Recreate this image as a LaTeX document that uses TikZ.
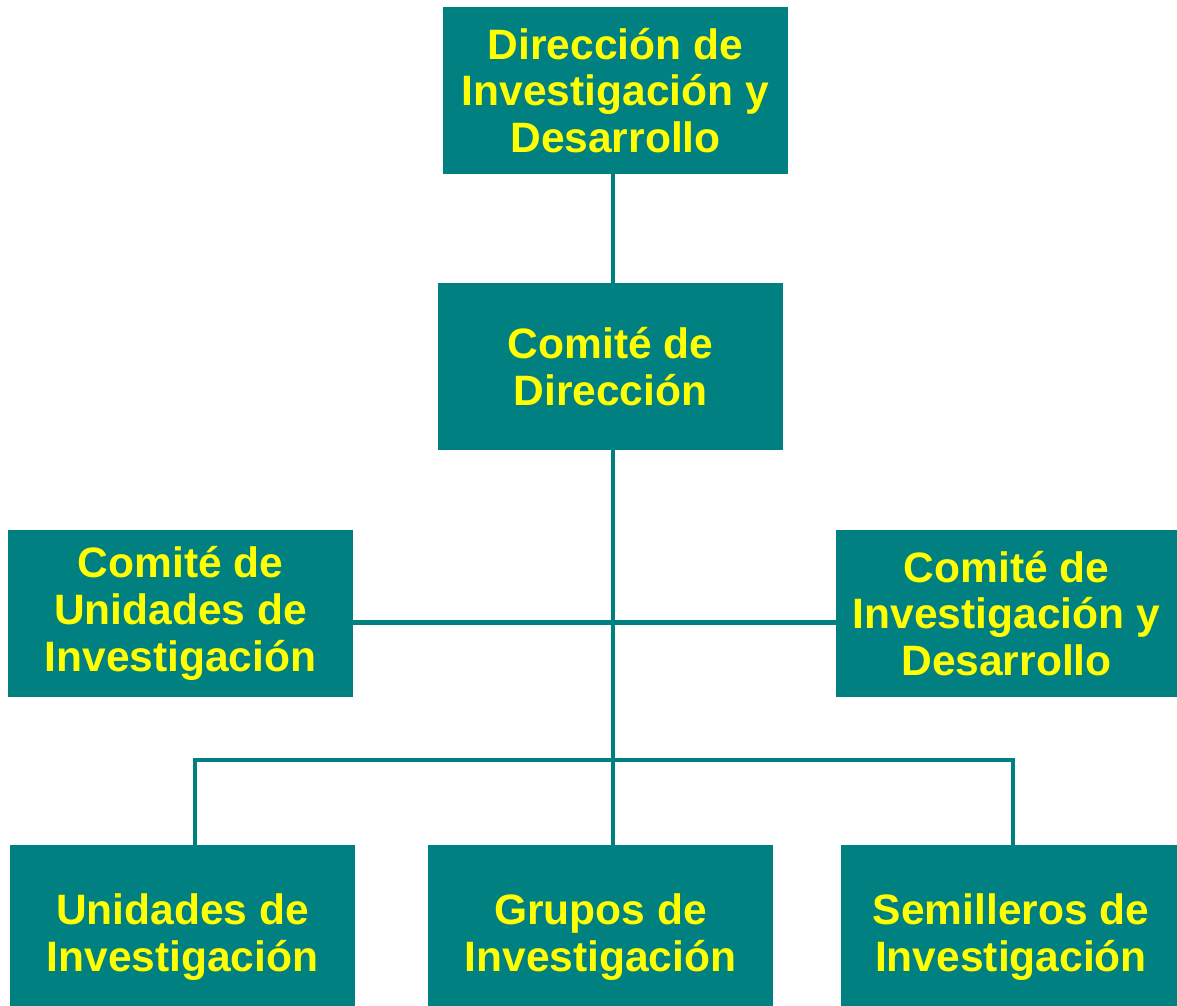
\documentclass[tikz,border=0pt]{standalone}
\usepackage{fontspec}
\setmainfont{Liberation Sans}
\definecolor{orgteal}{RGB}{0,128,128}
\definecolor{orgyellow}{RGB}{255,255,0}
\tikzset{
	orgbox/.style={fill=orgteal, text=orgyellow, align=center, inner sep=0pt,
		minimum width=6.9cm, minimum height=3.34cm,
		font=\fontsize{24.2}{26.6}\selectfont\bfseries},
	link/.style={draw=orgteal, line width=2.6pt}
}

\begin{document}
\begin{tikzpicture}
	\useasboundingbox (0,0) rectangle (23.54,-20.12);
	% boxes
	\node[orgbox] (dir) at (12.31,-1.81) {Dirección de\\Investigación y\\Desarrollo};
	\node[orgbox] (comite) at (12.21,-7.33) {Comité de\\Dirección};
	\node[orgbox] (cu) at (3.61,-12.27) {Comité de\\Unidades de\\Investigación};
	\node[orgbox, minimum width=6.82cm] (ci) at (20.13,-12.27) {Comité de\\Investigación y\\Desarrollo};
	\node[orgbox, minimum height=3.68cm] (ui) at (3.65,-18.74) {Unidades de\\Investigación};
	\node[orgbox, minimum height=3.68cm] (gi) at (12.01,-18.74) {Grupos de\\Investigación};
	\node[orgbox, minimum width=6.8cm, minimum height=3.68cm] (si) at (20.22,-18.74) {Semilleros de\\Investigación};
	% connectors
	\coordinate (hub) at (12.26,-12.45);
	\coordinate (bl) at (3.9,-15.2);
	\coordinate (br) at (20.26,-15.2);
	\draw[link] (dir.south -| hub) -- (comite.north -| hub);
	\draw[link] (comite.south -| hub) -- (gi.north -| hub);
	\draw[link] (hub -| cu.east) -- (hub -| ci.west);
	\draw[link] (ui.north -| bl) -- (bl) -- (br) -- (si.north -| br);
\end{tikzpicture}
\end{document}
